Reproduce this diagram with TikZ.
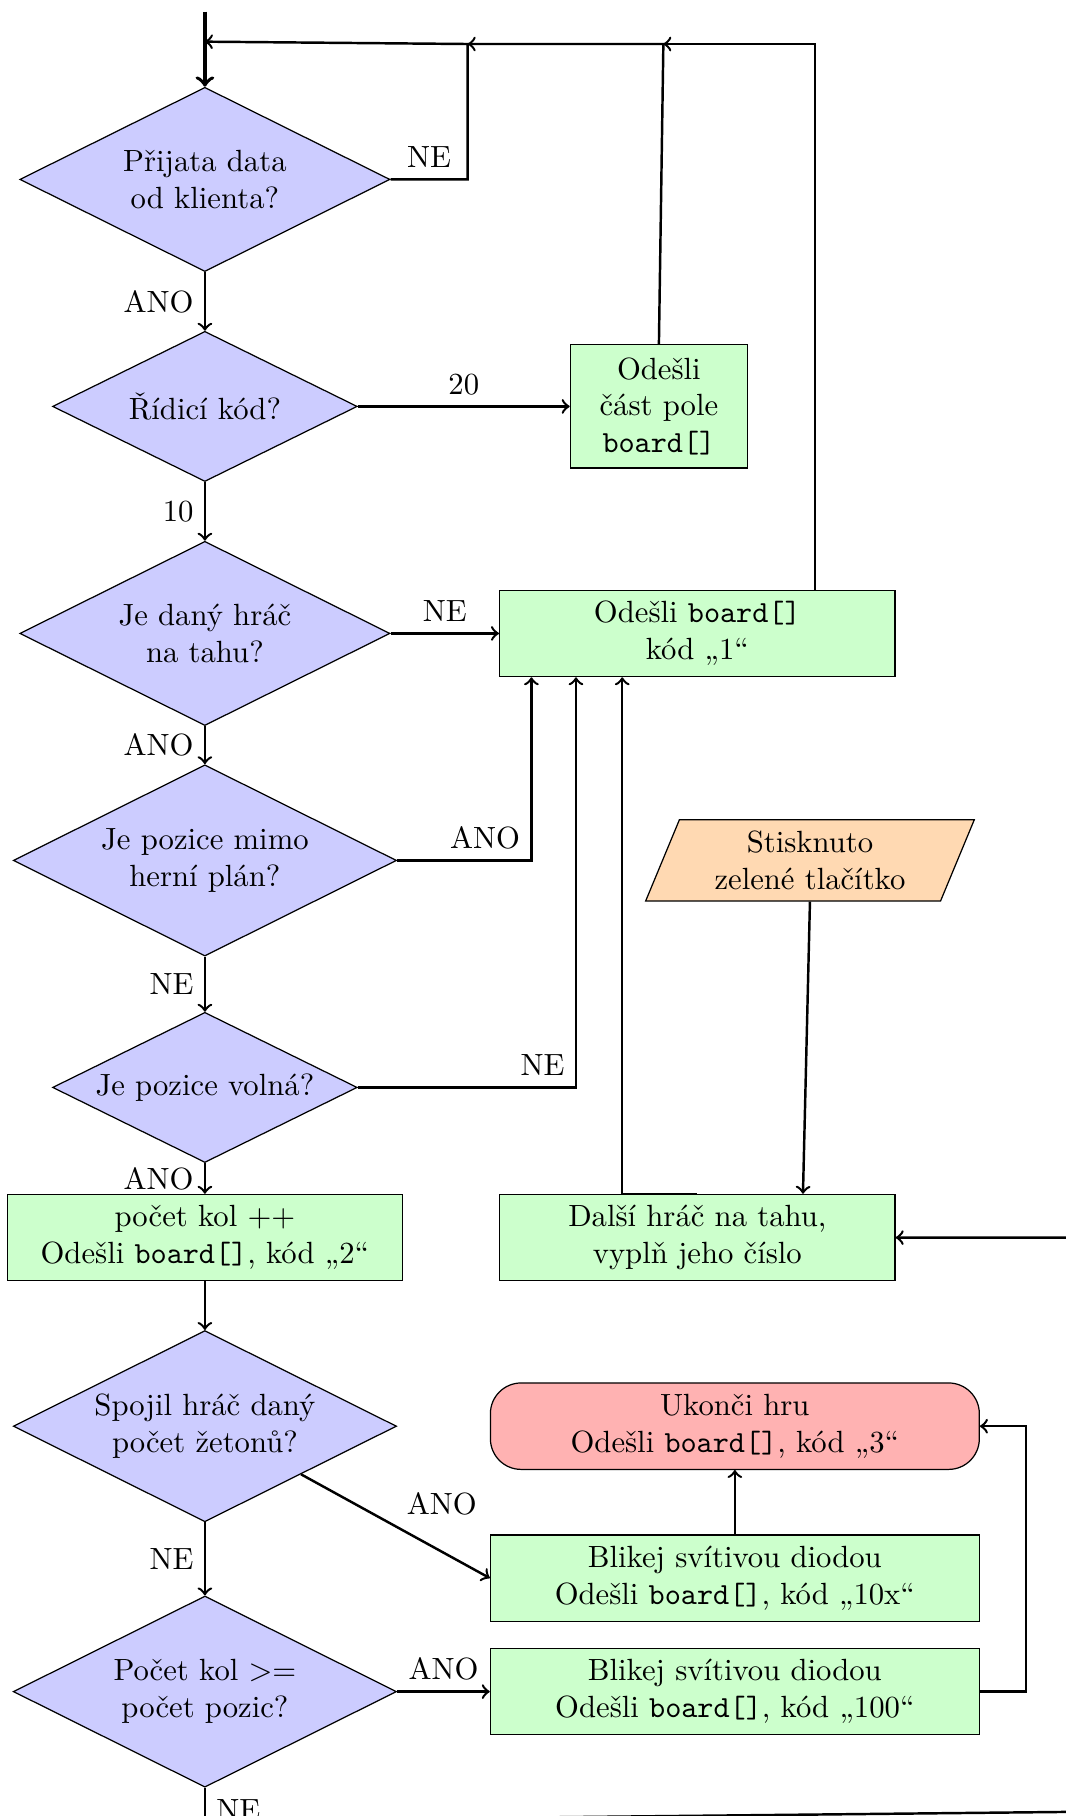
\documentclass[tikz,border=0pt]{standalone}
\usetikzlibrary{shapes.geometric,calc}

\begin{document}
\begin{tikzpicture}[>=to,thick,node distance=2.6cm,
    decision/.style={diamond,aspect=2,draw,thin,fill=blue!20,align=center,inner sep=0pt,minimum width=4.24cm,minimum height=2.11cm},
    widedec/.style={minimum width=4.39cm,minimum height=2.19cm},
    narrowdec/.style={minimum width=3.49cm,minimum height=1.72cm},
    process/.style={rectangle,draw,thin,fill=green!20,align=center,minimum width=4.53cm,minimum height=0.99cm},
    stop/.style={process,rounded corners=10pt,fill=red!30},
    io/.style={trapezium,trapezium left angle=71,trapezium right angle=109,trapezium stretches=true,draw,thin,fill=orange!30,align=center,minimum width=3.78cm,minimum height=0.93cm}]
    \useasboundingbox (0,0) rectangle (12.2,-20.8);

    % hlavni sloupec
    \node[decision] (d1) at (2.347,-2.055) {Přijata data\\od klienta?};
    \node[decision,narrowdec,below of=d1] (d2) {Řídicí kód?};
    \node[decision,below of=d2] (d3) {Je daný hráč\\na tahu?};
    \node[decision,widedec,below of=d3] (d4) {Je pozice mimo\\herní plán?};
    \node[decision,narrowdec,below of=d4] (d5) {Je pozice volná?};
    \node[process,below of=d5,node distance=1.72cm] (pocet) {počet kol ++\\Odešli \texttt{board[]}, kód „2“};
    \node[decision,widedec,below of=pocet,node distance=2.16cm] (d6) {Spojil hráč daný\\počet žetonů?};
    \node[decision,widedec,below of=d6,node distance=3.04cm] (d7) {Počet kol >=\\počet pozic?};

    % pravy sloupec
    \node[process,minimum width=2.03cm,minimum height=1.41cm,right of=d2,node distance=5.2cm] (cast) {Odešli\\část pole\\\texttt{board[]}};
    \node[process,right of=d3,node distance=5.64cm] (odesli1) {Odešli \texttt{board[]}\\kód „1“};
    \node[io,right of=d4,node distance=6.93cm] (zel) {Stisknuto\\zelené tlačítko};
    \node[process,right of=pocet,node distance=5.64cm] (dalsi) {Další hráč na tahu,\\vyplň jeho číslo};
    \node[stop,minimum width=5.6cm,right of=d6,node distance=6.07cm] (ukonci) {Ukonči hru\\Odešli \texttt{board[]}, kód „3“};
    \node[process,minimum width=5.6cm,below of=ukonci,node distance=1.74cm] (blik10) {Blikej svítivou diodou\\Odešli \texttt{board[]}, kód „10x“};
    \node[process,minimum width=5.6cm,right of=d7,node distance=6.07cm] (blik100) {Blikej svítivou diodou\\Odešli \texttt{board[]}, kód „100“};

    \coordinate (start) at (2.347,-0.133);
    \coordinate (j0) at (2.347,-0.477);
    \coordinate (j1) at (5.357,-0.504);
    \coordinate (j2) at (7.598,-0.504);
    \coordinate (ret1) at (4,-20.839);
    \coordinate (ret2) at (12.6,-20.749);

    \draw[->,very thick] (start) -- (d1);
    \draw[->] (d1.east) -| node[pos=0.25,above] {NE} (j1) -- (j0);
    \draw[->] (cast.north) -- (j2) -- (j1);
    \draw[->] ($(odesli1.north)+(1.35,0)$) |- (j2);

    \draw[->] (d1) -- node[left] {ANO} (d2);
    \draw[->] (d2) -- node[above] {20} (cast);
    \draw[->] (d2) -- node[left] {10} (d3);
    \draw[->] (d3) -- node[above] {NE} (odesli1);
    \draw[->] (d3) -- node[left] {ANO} (d4);
    \draw[->] (d4.east) -| node[above left] {ANO} ($(odesli1.south)+(-1.9,0)$);
    \draw[->] (d4) -- node[left] {NE} (d5);
    \draw[->] (d5.east) -| node[above left] {NE} ($(odesli1.south)+(-1.39,0)$);
    \draw[->] (d5) -- node[left] {ANO} (pocet);
    \draw[->] (dalsi.north) -| ($(odesli1.south)+(-0.86,0)$);
    \draw[->] (zel.center |- zel.south) -- ($(dalsi.north)+(1.21,0)$);
    \draw[->] (ret1) -- (ret2) |- (dalsi.east);

    \draw[->] (pocet) -- (d6);
    \draw[->] (d6.south east) -- node[above right] {ANO} (blik10.west);
    \draw[->] (d6) -- node[left] {NE} (d7);
    \draw[->] (d7) -- node[above] {ANO} (blik100);
    \draw[->] (blik10) -- (ukonci);
    \draw[->] (blik100.east) -- ++(0.53,0) |- (ukonci.east);
    \draw (d7.south) -- ++(0,-1) node[pos=0,below right] {NE};
\end{tikzpicture}
\end{document}
